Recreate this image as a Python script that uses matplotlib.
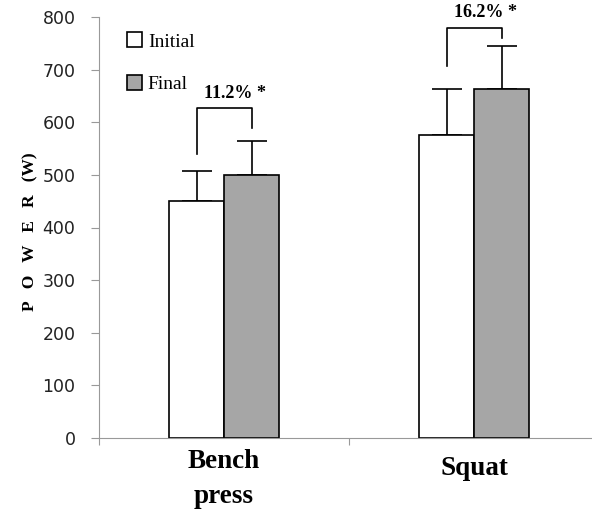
import matplotlib.pyplot as plt
import matplotlib.transforms as mtransforms
import numpy as np

exercises = ["Bench\npress", "Squat"]
initial = [450, 575]
final = [500, 663]
initial_sd = [57, 88]
final_sd = [65, 82]
changes = ["11.2% *", "16.2% *"]

SERIF = ["Liberation Serif", "DejaVu Serif"]

fig = plt.figure(figsize=(5.92, 5.09), dpi=100)
# x axis runs past the right edge of the picture, as in the original
ax = fig.add_axes([99 / 592, 71 / 509, 500 / 592, 421 / 509])

x = np.arange(len(exercises))
w = 0.22
ax.bar(x - w / 2, initial, w, color="white", edgecolor="black", linewidth=1.2,
       label="Initial", zorder=2)
ax.bar(x + w / 2, final, w, color="#a6a6a6", edgecolor="black", linewidth=1.2,
       label="Final", zorder=2)
ax.errorbar(x - w / 2, initial, yerr=[np.zeros(2), initial_sd], fmt="none",
            ecolor="black", elinewidth=1.2, capsize=11, capthick=1.2, zorder=1)
ax.errorbar(x + w / 2, final, yerr=[np.zeros(2), final_sd], fmt="none",
            ecolor="black", elinewidth=1.2, capsize=11, capthick=1.2, zorder=1)

# significance brackets
br_top = [627, 780]
br_left = [540, 707]
br_right = [589, 760]
for i in range(len(exercises)):
    xl, xr = x[i] - w / 2, x[i] + w / 2
    ax.plot([xl, xl, xr, xr], [br_left[i], br_top[i], br_top[i], br_right[i]],
            color="black", lw=1.2, clip_on=False)
    ax.text(x[i] + 0.045, br_top[i] + 12, changes[i], ha="center", va="bottom",
            fontsize=13, fontweight="bold", family=SERIF)

ax.set_xlim(-0.5, 1.5)
ax.set_ylim(0, 800)
ax.set_yticks(range(0, 801, 100))
ax.set_xticks([-0.5, 0.5, 1.5])
ax.set_xticklabels([])
ax.set_xticks(x, minor=True)
ax.set_xticklabels(exercises, minor=True, fontsize=19.5, fontweight="bold",
                   family=SERIF, linespacing=1.5)
ax.tick_params(axis="x", which="minor", length=0, pad=8)
ax.tick_params(axis="x", which="major", length=5, color="#999999")
ax.tick_params(axis="y", length=6, color="#999999", labelsize=12.5, pad=11,
               labelcolor="#222222")

# "Squat" sits a little lower than "Bench"
sq = ax.get_xticklabels(minor=True)[1]
sq.set_transform(sq.get_transform() +
                 mtransforms.ScaledTranslation(0, -7 / 100, fig.dpi_scale_trans))

for s in ["top", "right"]:
    ax.spines[s].set_visible(False)
for s in ["left", "bottom"]:
    ax.spines[s].set_color("#999999")

ax.set_ylabel("P   O   W   E   R   (W)", fontsize=12.5, fontweight="bold",
              family=SERIF)
ax.yaxis.set_label_coords(-0.122, 0.49)

ax.legend(loc="upper left", bbox_to_anchor=(0.02, 1.005), frameon=False,
          prop={"family": SERIF, "size": 14}, handlelength=0.8,
          handleheight=0.8, handletextpad=0.3, labelspacing=1.25)

fig.savefig("out.png")
